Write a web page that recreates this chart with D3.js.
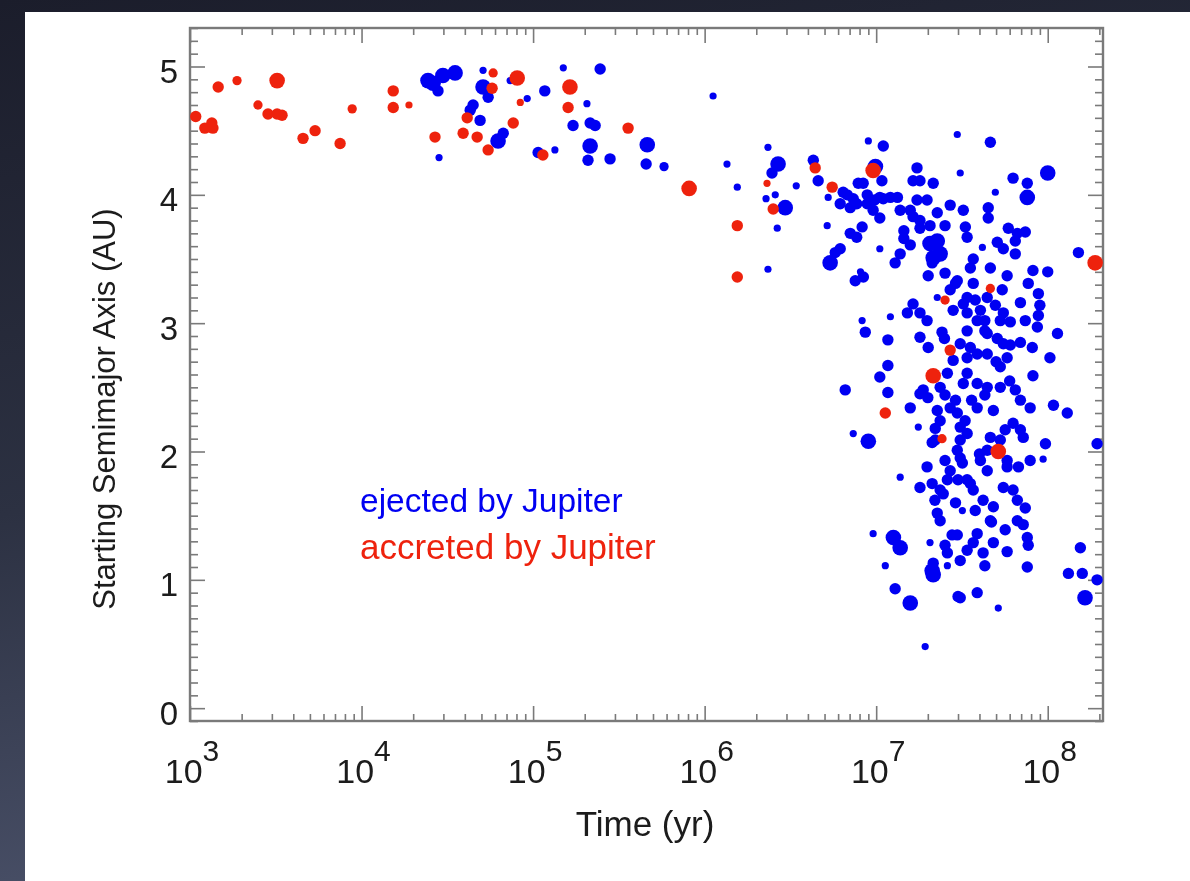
<!DOCTYPE html>
<html>
<head>
<meta charset="utf-8">
<script src="https://cdn.jsdelivr.net/npm/d3@7"></script>
<style>
  html, body { margin: 0; padding: 0; background: #1c1e2c; }
  svg { display: block; }
  text { font-family: "Liberation Sans", Arial, Helvetica, sans-serif; }
</style>
</head>
<body>
<svg id="chart" width="1190" height="881"></svg>
<script>
// ---------------- DATA ----------------
const xTickExponents = [3, 4, 5, 6, 7, 8];
const yTickLabels = [0, 1, 2, 3, 4, 5];
const legendLabels = ["ejected by Jupiter", "accreted by Jupiter"];
const xTitle = "Time (yr)";
const yTitle = "Starting Semimajor Axis (AU)";

// accreted by Jupiter (red): time (yr), starting a (AU), marker size class
const accretedTime = [1.08e3,1.22e3,1.34e3,1.36e3,1.46e3,1.88e3,3.22e3,2.49e3,2.85e3,3.22e3,3.44e3,4.56e3,5.36e3,7.5e3,8.82e3,
  1.53e4,1.53e4,1.89e4,2.68e4,3.91e4,4.72e4,4.13e4,5.47e4,5.77e4,5.85e4,8.08e4,8.42e4,7.66e4,
  1.14e5,1.64e5,1.6e5,3.58e5,8.12e5,1.55e6,1.55e6,2.31e6,2.51e6,4.41e6,5.54e6,9.6e6,
  1.13e7,2.15e7,2.42e7,2.52e7,2.7e7,4.63e7,5.15e7,1.89e8];
const accretedA = [4.61,4.52,4.56,4.52,4.84,4.89,4.89,4.70,4.63,4.63,4.62,4.44,4.50,4.40,4.67,
  4.81,4.68,4.70,4.45,4.48,4.45,4.60,4.35,4.83,4.95,4.91,4.72,4.56,
  4.31,4.84,4.68,4.52,4.05,3.76,3.36,4.09,3.89,4.21,4.06,4.19,
  2.30,2.59,2.10,3.18,2.79,3.27,2.00,3.47];
const accretedSize = [2,2,2,2,2,1.5,3,1.5,2,2,2,2,2,2,1.5,
  2,2,1,2,2,2,2,2,2,1.5,3,1,2,
  2,3,2,2,3,2,2,1,2,2,2,3,
  2,3,1.5,1.5,2,1.5,3,3];

// ejected by Jupiter (blue): time (yr), starting a (AU), marker size class
const ejectedTime = [
  2.44e4,2.61e4,2.98e4,3.51e4,2.79e4,2.83e4,5.11e4,5.11e4,5.47e4,4.47e4,4.3e4,4.91e4,6.25e4,6.7e4,7.35e4,9.24e4,
  1.07e5,1.34e5,1.17e5,1.5e5,2.06e5,1.71e5,2.15e5,2.3e5,2.15e5,2.09e5,2.81e5,2.46e5,4.63e5,4.56e5,5.8e5,
  1.12e6,1.35e6,1.55e6,2.34e6,2.34e6,2.68e6,2.47e6,2.58e6,2.28e6,2.95e6,2.65e6,3.42e6,4.3e6,4.59e6,5.25e6,
  9.0e6,1.1e7,9.9e6,1.08e7,2.97e7,4.63e7,3.09e7,1.0e8,
  6.42e6,6.78e6,7.35e6,7.7e6,7.86e6,8.4e6,8.87e6,8.87e6,9.6e6,9.8e6,1.05e7,1.1e7,1.21e7,1.33e7,1.05e7,7.06e6,6.17e6,
  1.73e7,1.8e7,1.64e7,2.15e7,1.73e7,1.98e7,1.58e7,2.27e7,1.8e7,1.8e7,1.64e7,
  6.28e7,7.6e7,7.6e7,4.95e7,3.22e7,3.31e7,3.39e7,4.5e7,4.5e7,5.89e7,6.65e7,7.4e7,6.47e7,4.16e7,5.08e7,5.51e7,6.47e7,1.51e8,
  5.18e6,8.28e6,7.7e6,7.06e6,
  2.06e7,2.27e7,2.15e7,2.36e7,2.12e7,1.05e7,1.58e7,1.38e7,1.29e7,6.17e6,5.77e6,5.39e6,7.55e6,8.42e6,8.1e6,
  2.01e7,2.52e7,2.97e7,2.9e7,3.68e7,3.54e7,4.63e7,8.2e7,1.0e8,5.8e7,3.68e7,5.43e7,7.7e7,8.82e7,6.93e7,4.44e7,
  5.51e7,5.29e7,8.82e7,8.7e7,1.14e8,4.05e7,3.39e7,3.88e7,4.44e7,5.08e7,5.51e7,6.93e7,8.13e7,1.03e8,4.44e7,
  2.81e7,3.22e7,3.39e7,2.27e7,1.64e7,1.8e7,1.98e7,1.52e7,8.28e6,8.64e6,1.21e7,1.17e7,1.8e7,2.01e7,2.42e7,
  3.09e7,3.39e7,3.54e7,3.88e7,5.8e7,5.29e7,2.81e7,3.39e7,1.17e7,1.05e7,1.88e7,2.36e7,2.6e7,3.22e7,3.39e7,
  3.88e7,4.44e7,5.29e7,6.6e6,1.17e7,8.2e7,1.58e7,2.27e7,2.7e7,2.97e7,3.88e7,4.82e7,7.9e7,1.08e8,1.3e8,1.8e7,1.76e7,
  2.36e7,2.21e7,2.12e7,3.09e7,3.09e7,2.97e7,3.09e7,3.18e7,7.35e6,9.0e6,6.28e7,6.93e7,7.2e7,9.7e7,9.4e7,1.94e8,
  4.44e7,4.05e7,5.29e7,4.63e7,5.8e7,6.75e7,3.39e7,
  1.98e7,1.38e7,1.8e7,2.12e7,2.36e7,2.6e7,2.46e7,2.27e7,2.36e7,3.18e7,3.39e7,3.54e7,3.68e7,4.2e7,4.82e7,
  5.51e7,6.28e7,6.65e7,7.4e7,4.44e7,5.8e7,6.65e7,7.2e7,7.6e7,7.7e7,3.88e7,3.68e7,3.39e7,4.2e7,4.82e7,5.8e7,
  2.77e7,2.97e7,2.6e7,2.06e7,9.6e6,1.26e7,1.38e7,1.13e7,2.15e7,2.15e7,2.12e7,2.6e7,7.6e7,
  1.29e7,3.0e7,3.88e7,1.58e7,5.15e7,1.93e7,1.55e8,1.32e8,1.59e8,1.94e8,1.65e8,3.09e7,
  1.45e7,2.5e7,2.0e7,3.6e7,5.0e7,4.0e7,2.9e7,4.7e7,6.0e7,2.2e7,3.3e7,4.3e7,
  2.7e7,3.78e7,4.95e7,6.05e7,7.4e7,2.52e7,2.9e7,4.3e7,6.47e7,6.93e7,
  2.7e7,3.0e7,3.78e7,4.63e7,5.65e7,2.52e7,3.09e7,4.3e7,2.21e7,2.52e7,5.65e7,7.9e7,
  1.38e7,1.45e7,2.06e7,2.52e7,2.7e7,4.3e7,6.05e7,9.0e7];
const ejectedA = [
  4.89,4.87,4.93,4.95,4.81,4.29,4.97,4.84,4.76,4.70,4.66,4.58,4.42,4.48,4.89,4.75,
  4.33,4.35,4.81,4.99,4.71,4.54,4.56,4.54,4.38,4.27,4.28,4.98,4.39,4.24,4.22,
  4.77,4.24,4.06,4.37,3.42,4.24,4.17,4.00,3.97,3.90,3.74,4.07,4.27,4.11,3.98,
  4.42,4.38,4.22,4.11,4.47,4.41,4.17,4.17,
  4.02,4.00,3.97,3.93,4.09,4.09,4.00,3.93,3.88,3.96,3.98,3.97,3.98,3.98,3.82,3.90,3.93,
  4.21,4.11,4.11,4.09,3.96,3.96,3.88,3.86,3.80,3.74,3.83,
  4.13,4.09,3.98,4.02,3.88,3.75,3.67,3.90,3.82,3.74,3.70,3.71,3.64,3.59,3.63,3.58,3.54,3.55,
  3.76,3.75,3.67,3.70,
  3.62,3.64,3.51,3.54,3.47,3.58,3.61,3.54,3.47,3.58,3.55,3.47,3.33,3.36,3.40,
  3.37,3.39,3.33,3.31,3.50,3.43,3.43,3.41,3.40,3.37,3.31,3.26,3.31,3.23,3.16,3.20,
  3.08,3.02,3.06,2.97,2.92,3.10,3.08,3.02,2.92,2.88,2.84,2.85,2.81,2.73,2.76,
  3.10,3.15,3.20,3.20,3.15,3.08,3.02,3.08,3.02,2.93,3.05,2.87,2.89,2.81,2.93,
  2.84,2.94,2.81,2.76,2.73,2.66,2.71,2.73,2.67,2.58,2.48,2.50,2.61,2.53,2.61,
  2.53,2.50,2.50,2.48,2.46,2.59,2.34,2.32,2.34,2.30,2.34,2.32,2.34,2.36,2.30,2.45,2.19,
  2.24,2.18,2.07,2.19,2.09,2.01,1.95,1.91,2.14,2.08,2.22,2.17,2.11,2.06,1.94,2.06,
  2.01,1.93,2.09,2.11,1.93,1.88,2.14,
  1.88,1.80,1.72,1.75,1.70,1.78,1.67,1.52,1.46,1.54,1.78,1.75,1.70,1.62,1.57,
  1.72,1.70,1.62,1.56,1.85,1.88,1.46,1.43,1.33,1.27,1.36,1.29,1.23,1.21,1.29,1.22,
  1.35,1.35,1.21,1.29,1.36,1.33,1.25,1.11,1.13,1.04,1.07,1.11,1.10,
  0.93,0.87,0.90,0.82,0.78,0.48,1.25,1.05,1.05,1.00,0.86,0.86,
  3.66,2.88,2.42,2.40,2.70,1.98,1.60,1.45,2.55,1.62,2.24,3.02,
  3.26,3.18,3.14,3.01,3.02,2.44,2.40,2.44,2.48,2.40,
  1.85,1.78,1.54,1.46,1.39,1.27,1.15,1.11,2.09,1.93,2.17,1.93,
  3.88,3.72,3.76,3.76,3.92,2.94,2.83,3.14];
const ejectedSize = [
  3,3,3,3,2,1,1,3,2,2,2,2,3,2,1,1,
  2,1,2,1,1,2,2,2,3,2,2,2,3,2,1.5,
  1,1,1,1,1,3,2,1,1,3,1,1,2,2,1,
  1,2,3,2,1,2,1,3,
  2,2,2,2,2,2,2,2,2,2,2,2,2,2,2,2,2,
  2,2,2,2,2,2,2,2,2,2,2,
  2,2,3,1,2,2,2,2,2,2,2,2,2,1,2,2,2,2,
  1,2,2,2,
  3,3,3,3,2,1,2,2,2,2,2,3,2,2,1,
  2,2,2,2,2,2,2,2,2,2,2,2,2,2,2,2,
  2,2,2,2,2,2,2,2,2,2,2,2,2,2,2,
  2,2,2,1,2,2,2,2,1,2,1,2,2,2,2,
  2,2,2,2,2,2,2,2,2,2,2,2,2,2,2,
  2,2,2,2,2,2,2,2,2,2,2,2,2,2,2,2,1,
  2,2,2,2,2,2,2,2,1,3,2,2,2,2,1,2,
  2,2,2,2,2,2,2,
  2,1,2,2,2,2,2,2,2,1,2,2,2,2,2,
  2,2,2,2,2,2,2,2,2,2,2,2,2,2,2,2,
  2,2,2,1,1,3,3,1,2,3,3,1,2,
  2,2,2,3,1,1,2,2,2,2,3,2,
  2,2,2,2,2,2,2,2,2,2,2,2,
  2,2,2,2,2,2,2,2,2,2,
  2,2,2,2,2,2,2,2,2,2,2,2,
  2,2,2,2,2,2,2,2];

// ---------------- CHART ----------------
const W = 1190, H = 881;
const svg = d3.select("#chart");

const defs = svg.append("defs");
const bg = defs.append("linearGradient").attr("id", "bg").attr("x1", 0).attr("y1", 0).attr("x2", 0.25).attr("y2", 1);
bg.append("stop").attr("offset", "0%").attr("stop-color", "#1b1d2b");
bg.append("stop").attr("offset", "55%").attr("stop-color", "#2c3142");
bg.append("stop").attr("offset", "100%").attr("stop-color", "#4a5169");
const blur = defs.append("filter").attr("id", "soft");
blur.append("feGaussianBlur").attr("stdDeviation", 0.7);
const tblur = defs.append("filter").attr("id", "softText");
tblur.append("feGaussianBlur").attr("stdDeviation", 0.45);

svg.append("rect").attr("width", W).attr("height", H).attr("fill", "url(#bg)");
svg.append("rect").attr("x", 25).attr("y", 12).attr("width", W - 25).attr("height", H - 12).attr("fill", "#ffffff");

const pL = 190, pR = 1103, pT = 28, pB = 721;
const x = d3.scaleLog().domain([1e3, 2.1e8]).range([pL, pR]);
const y = d3.scaleLinear().domain([-0.1, 5.3]).range([pB, pT]);
const r = d3.scaleLinear().domain([1, 3]).range([3.6, 7.8]);

const blue = "#0000f2", red = "#ee2410";
const axisColor = "#7a7a7a";

// minor tick values
const xMajor = xTickExponents.map(e => Math.pow(10, e));
const xMinor = [];
for (let e = 3; e <= 8; e++) for (let m = 2; m <= 9; m++) { const v = m * Math.pow(10, e); if (v <= 2.1e8) xMinor.push(v); }
const yMinor = d3.range(-1, 54).map(i => i / 10).filter(v => Math.abs(v - Math.round(v)) > 1e-6);

function styleAxis(g) {
  g.select(".domain").remove();
  g.selectAll("line").attr("stroke", axisColor).attr("stroke-width", 1.6);
  g.selectAll("text").remove();
}

// bottom & top axes
[[d3.axisBottom, pB], [d3.axisTop, pT]].forEach(([fn, pos]) => {
  svg.append("g").attr("transform", `translate(0,${pos})`)
    .call(fn(x).tickValues(xMajor).tickSize(-15)).call(styleAxis);
  svg.append("g").attr("transform", `translate(0,${pos})`)
    .call(fn(x).tickValues(xMinor).tickSize(-7)).call(styleAxis);
});
// left & right axes
[[d3.axisLeft, pL], [d3.axisRight, pR]].forEach(([fn, pos]) => {
  svg.append("g").attr("transform", `translate(${pos},0)`)
    .call(fn(y).tickValues(yTickLabels).tickSize(-15)).call(styleAxis);
  svg.append("g").attr("transform", `translate(${pos},0)`)
    .call(fn(y).tickValues(yMinor).tickSize(-8)).call(styleAxis);
});

// frame
svg.append("rect").attr("x", pL).attr("y", pT).attr("width", pR - pL).attr("height", pB - pT)
  .attr("fill", "none").attr("stroke", axisColor).attr("stroke-width", 2.4);

// points
const plot = svg.append("g").attr("filter", "url(#soft)");
const ejected = ejectedTime.map((t, i) => ({ t, a: ejectedA[i], s: ejectedSize[i] }));
const accreted = accretedTime.map((t, i) => ({ t, a: accretedA[i], s: accretedSize[i] }));
plot.selectAll("circle.ej").data(ejected).enter().append("circle").attr("class", "ej")
  .attr("cx", d => x(d.t)).attr("cy", d => y(d.a)).attr("r", d => r(d.s)).attr("fill", blue);
plot.selectAll("circle.ac").data(accreted).enter().append("circle").attr("class", "ac")
  .attr("cx", d => x(d.t)).attr("cy", d => y(d.a)).attr("r", d => r(d.s)).attr("fill", red);

const txt = svg.append("g").attr("filter", "url(#softText)");
// x tick labels 10^n
const xl = txt.append("g").attr("fill", "#1a1a1a");
xTickExponents.forEach(e => {
  const t = xl.append("text").attr("x", x(Math.pow(10, e)) + 2).attr("y", 783)
    .attr("text-anchor", "middle").attr("font-size", 34);
  t.append("tspan").text("10");
  t.append("tspan").attr("dy", -22).attr("font-size", 30).text(String(e));
});
// y tick labels
txt.append("g").selectAll("text").data(yTickLabels).enter().append("text")
  .attr("x", 178).attr("y", d => y(d) + 5).attr("dy", "0.35em")
  .attr("text-anchor", "end").attr("font-size", 33).attr("fill", "#1a1a1a").text(d => d);

// titles
txt.append("text").attr("x", 645).attr("y", 836).attr("text-anchor", "middle")
  .attr("font-size", 35).attr("fill", "#1a1a1a").text(xTitle);
txt.append("text").attr("transform", "translate(115,409) rotate(-90)").attr("text-anchor", "middle")
  .attr("font-size", 31).attr("fill", "#1a1a1a").text(yTitle);

// legend
txt.append("text").attr("x", 360).attr("y", 512).attr("font-size", 33.5).attr("fill", blue).text(legendLabels[0]);
txt.append("text").attr("x", 360).attr("y", 559).attr("font-size", 35).attr("fill", red).text(legendLabels[1]);
</script>
</body>
</html>
